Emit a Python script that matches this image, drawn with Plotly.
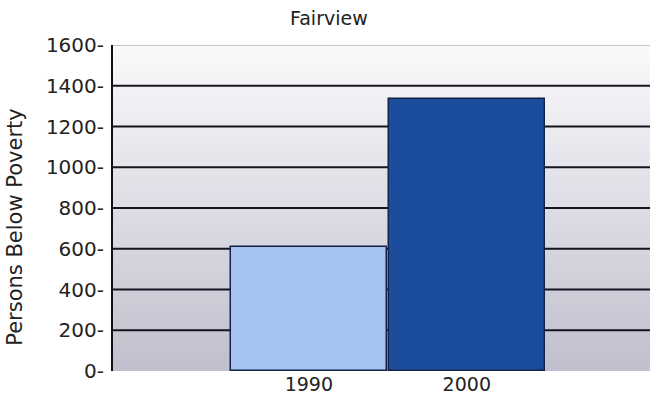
import base64
import struct
import zlib

import plotly.graph_objects as go

# Persons below the poverty line in Fairview, by census year
YEARS = ["1990", "2000"]
PERSONS = [610, 1335]
BAR_COLORS = ["#a6c4f2", "#1c4c9c"]

Y_TICKS = [0, 200, 400, 600, 800, 1000, 1200, 1400, 1600]
Y_TICK_TEXT = [f"{v}-" for v in Y_TICKS]

FONT = "DejaVu Sans"


def gradient_png(top, bottom, height=128):
    """Return a 1-pixel-wide vertical gradient as a PNG data URI."""
    rows = b""
    for i in range(height):
        t = i / (height - 1)
        rgb = bytes(round(a + (b - a) * t) for a, b in zip(top, bottom))
        rows += b"\x00" + rgb
    def chunk(tag, data):
        body = tag + data
        return struct.pack(">I", len(data)) + body + struct.pack(">I", zlib.crc32(body) & 0xFFFFFFFF)
    png = b"\x89PNG\r\n\x1a\n"
    png += chunk(b"IHDR", struct.pack(">IIBBBBB", 1, height, 8, 2, 0, 0, 0))
    png += chunk(b"IDAT", zlib.compress(rows, 9))
    png += chunk(b"IEND", b"")
    return "data:image/png;base64," + base64.b64encode(png).decode()


fig = go.Figure(
    go.Bar(
        x=YEARS,
        y=PERSONS,
        width=0.99,
        marker=dict(color=BAR_COLORS, line=dict(color="#14224a", width=1.5)),
        hoverinfo="x+y",
    )
)

# plot-area backdrop: pale at the top fading to a lavender grey
fig.add_layout_image(
    source=gradient_png((250, 250, 252), (192, 192, 206)),
    xref="paper", yref="paper", x=0, y=1, sizex=1, sizey=1,
    xanchor="left", yanchor="top", sizing="stretch", layer="below",
)

# dark horizontal rules behind the bars, lighter rule along the top
for v in Y_TICKS[1:-1]:
    fig.add_shape(type="line", xref="paper", x0=0, x1=1, yref="y", y0=v, y1=v,
                  line=dict(color="#15151f", width=2), layer="below")
fig.add_shape(type="line", xref="paper", x0=0, x1=1, yref="y", y0=Y_TICKS[-1], y1=Y_TICKS[-1],
              line=dict(color="#b4b4be", width=1.5), layer="below")

# vertical axis caption, set slightly below the plot's mid-height
fig.add_annotation(
    text="Persons Below Poverty",
    textangle=-90,
    xref="paper", x=-0.184, xanchor="center",
    yref="paper", y=0.44, yanchor="middle",
    showarrow=False,
    font=dict(family=FONT, size=21, color="#222222"),
)

fig.update_layout(
    width=650,
    height=404,
    margin=dict(l=113, r=0, t=45, b=33),
    paper_bgcolor="white",
    plot_bgcolor="rgba(0,0,0,0)",
    showlegend=False,
    bargap=0,
    font=dict(family=FONT, color="#222222", size=19),
    title=dict(
        text="Fairview",
        font=dict(family=FONT, size=19, color="#222222"),
        xref="paper", x=0.402, xanchor="center",
        yref="container", y=1 - 18 / 404, yanchor="middle",
    ),
    xaxis=dict(
        type="category",
        range=[-1.24, 2.16],
        showgrid=False,
        zeroline=False,
        showline=False,
        ticks="",
        tickfont=dict(size=19),
    ),
    yaxis=dict(
        range=[0, 1600],
        tickmode="array",
        tickvals=Y_TICKS,
        ticktext=Y_TICK_TEXT,
        showgrid=False,
        zeroline=False,
        showline=True,
        linecolor="#111111",
        linewidth=2,
        ticks="",
        tickfont=dict(size=20),
        ticklabelstandoff=3,
    ),
)

fig.write_html("out.html")
